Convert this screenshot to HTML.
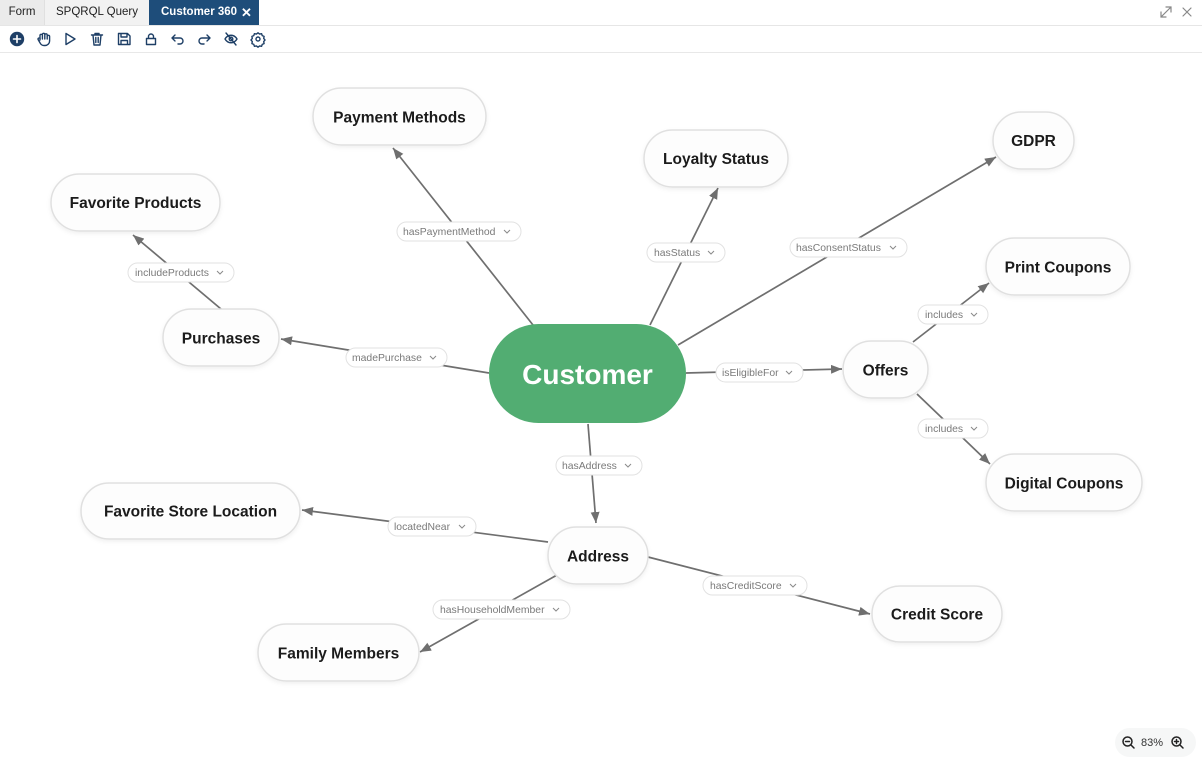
<!DOCTYPE html>
<html><head><meta charset="utf-8">
<style>
html,body{margin:0;padding:0;width:1202px;height:767px;overflow:hidden;background:#fff;font-family:"Liberation Sans",sans-serif;}
.tabbar{position:absolute;left:0;top:0;width:1202px;height:25px;background:#fff;border-bottom:1px solid #e6e6e6;}
.tab{position:absolute;top:0;height:25px;line-height:25px;font-size:11.5px;color:#222;text-align:center;}
.toolbar{position:absolute;left:0;top:26px;width:1202px;height:26px;border-bottom:1px solid #e8e8e8;background:#fff;}
svg{position:absolute;left:0;top:0;}
</style></head><body>
<div class="tabbar">
  <div class="tab" style="left:0;width:44px;background:#ebebeb;border-right:1px solid #e0e0e0;">Form</div>
  <div class="tab" style="left:45px;width:104px;background:#f2f2f2;">SPQRQL Query</div>
  <div class="tab" style="left:149px;width:110px;background:#1e4d7a;color:#fff;font-weight:bold;text-align:left;"><span style="position:absolute;left:12px;">Customer 360</span><span style="position:absolute;left:92px;font-size:13px;">✕</span></div>
</div>
<div class="toolbar"></div>
<svg width="1202" height="767" viewBox="0 0 1202 767">
  <defs>
    <marker id="ah" markerUnits="userSpaceOnUse" markerWidth="12" markerHeight="10" refX="11" refY="4.5" orient="auto">
      <path d="M0,0 L11,4.5 L0,9 z" fill="#6f6f6f"/>
    </marker>
    <filter id="sh" x="-10%" y="-20%" width="120%" height="150%">
      <feDropShadow dx="0" dy="2" stdDeviation="2" flood-color="#000" flood-opacity="0.06"/>
    </filter>
  </defs>

  <!-- top-right icons -->
  <g stroke="#888" stroke-width="1.2" fill="none" stroke-linecap="round">
    <path d="M1161,17 L1171,7 M1166,7 L1171,7 L1171,12 M1161,12 L1161,17 L1166,17"/>
    <path d="M1183,8 L1191,16 M1191,8 L1183,16"/>
  </g>

  <!-- toolbar icons -->
  <g fill="none" stroke="#1e3f66" stroke-width="1.4" stroke-linecap="round" stroke-linejoin="round">
    <circle cx="17" cy="39" r="6.5" fill="#1e3f66"/>
    <path d="M17,35.5 V42.5 M13.5,39 H20.5" stroke="#fff" stroke-width="1.6"/>
    <path d="M40,40 V35.5 a1.2,1.2 0 0 1 2.4,0 V39 V34.5 a1.2,1.2 0 0 1 2.4,0 V39 V35 a1.2,1.2 0 0 1 2.4,0 V39 V36.5 a1.2,1.2 0 0 1 2.4,0 V41 a4.5,4.5 0 0 1 -4.5,4.5 h-1 a4.5,4.5 0 0 1 -4,-2.5 l-2,-3.5 a1.2,1.2 0 0 1 2,-1.2 z"/>
    <path d="M66,33.5 L75,39 L66,44.5 z"/>
    <path d="M91.5,35 H102.5 M95,35 V33.5 H99 V35 M93,35 L94,45 H100 L101,35 M95.8,37.5 V42.5 M98.2,37.5 V42.5"/>
    <path d="M118.5,33.5 H127.5 L130,36 V44.5 H118.5 z M121,33.5 V37 H127 V33.5 M121,44.5 V40.5 H127.5 V44.5"/>
    <path d="M146.5,38.5 H155.5 V44.5 H146.5 z M148.5,38.5 V36.5 a2.5,2.5 0 0 1 5,0 V38.5"/>
    <path d="M175,35 L172,38 L175,41 M172,38 H180 a3,3 0 0 1 0,6 H178"/>
    <path d="M207,35 L210,38 L207,41 M210,38 H202 a3,3 0 0 0 0,6 H204"/>
    <path d="M225,39 C228,34 234,34 237,39 C234,44 228,44 225,39 z M226,33 L236,45"/>
    <circle cx="231" cy="39" r="1.8"/>
    <path d="M258,32.8 l1.6,1.3 l2,-0.4 l0.6,1.9 l1.9,0.8 l-0.4,2 l1.3,1.6 l-1.3,1.6 l0.4,2 l-1.9,0.8 l-0.6,1.9 l-2,-0.4 l-1.6,1.3 l-1.6,-1.3 l-2,0.4 l-0.6,-1.9 l-1.9,-0.8 l0.4,-2 l-1.3,-1.6 l1.3,-1.6 l-0.4,-2 l1.9,-0.8 l0.6,-1.9 l2,0.4 z"/>
    <circle cx="258" cy="39" r="2"/>
  </g>

  <!-- edges -->
  <g stroke="#6f6f6f" stroke-width="1.7" fill="none" marker-end="url(#ah)">
    <line x1="533" y1="325" x2="393" y2="148"/>
    <line x1="650" y1="325" x2="718" y2="188"/>
    <line x1="678" y1="345" x2="996" y2="157"/>
    <line x1="489" y1="373" x2="281" y2="339"/>
    <line x1="221" y1="309" x2="133" y2="235"/>
    <line x1="686" y1="373" x2="842" y2="369"/>
    <line x1="913" y1="342" x2="989" y2="283"/>
    <line x1="917" y1="394" x2="990" y2="464"/>
    <line x1="588" y1="424" x2="596" y2="523"/>
    <line x1="548" y1="542" x2="302" y2="510"/>
    <line x1="557" y1="575" x2="420" y2="652"/>
    <line x1="648" y1="557" x2="870" y2="614"/>
  </g>

  <!-- edge labels -->
  <g font-family="Liberation Sans, sans-serif" font-size="10.4" fill="#7a7a7a">
    <g><rect x="397" y="222" width="124" height="19" rx="9.5" fill="#fff" stroke="#e2e2e2"/><text x="403" y="235">hasPaymentMethod</text><path d="M504,230 l3,3 l3,-3" stroke="#8a8a8a" fill="none"/></g>
    <g><rect x="647" y="243" width="78" height="19" rx="9.5" fill="#fff" stroke="#e2e2e2"/><text x="654" y="256">hasStatus</text><path d="M708,251 l3,3 l3,-3" stroke="#8a8a8a" fill="none"/></g>
    <g><rect x="790" y="238" width="117" height="19" rx="9.5" fill="#fff" stroke="#e2e2e2"/><text x="796" y="251">hasConsentStatus</text><path d="M890,246 l3,3 l3,-3" stroke="#8a8a8a" fill="none"/></g>
    <g><rect x="346" y="348" width="101" height="19" rx="9.5" fill="#fff" stroke="#e2e2e2"/><text x="352" y="361">madePurchase</text><path d="M430,356 l3,3 l3,-3" stroke="#8a8a8a" fill="none"/></g>
    <g><rect x="128" y="263" width="106" height="19" rx="9.5" fill="#fff" stroke="#e2e2e2"/><text x="135" y="276">includeProducts</text><path d="M217,271 l3,3 l3,-3" stroke="#8a8a8a" fill="none"/></g>
    <g><rect x="716" y="363" width="87" height="19" rx="9.5" fill="#fff" stroke="#e2e2e2"/><text x="722" y="376">isEligibleFor</text><path d="M786,371 l3,3 l3,-3" stroke="#8a8a8a" fill="none"/></g>
    <g><rect x="918" y="305" width="70" height="19" rx="9.5" fill="#fff" stroke="#e2e2e2"/><text x="925" y="318">includes</text><path d="M971,313 l3,3 l3,-3" stroke="#8a8a8a" fill="none"/></g>
    <g><rect x="918" y="419" width="70" height="19" rx="9.5" fill="#fff" stroke="#e2e2e2"/><text x="925" y="432">includes</text><path d="M971,427 l3,3 l3,-3" stroke="#8a8a8a" fill="none"/></g>
    <g><rect x="556" y="456" width="86" height="19" rx="9.5" fill="#fff" stroke="#e2e2e2"/><text x="562" y="469">hasAddress</text><path d="M625,464 l3,3 l3,-3" stroke="#8a8a8a" fill="none"/></g>
    <g><rect x="388" y="517" width="88" height="19" rx="9.5" fill="#fff" stroke="#e2e2e2"/><text x="394" y="530">locatedNear</text><path d="M459,525 l3,3 l3,-3" stroke="#8a8a8a" fill="none"/></g>
    <g><rect x="433" y="600" width="137" height="19" rx="9.5" fill="#fff" stroke="#e2e2e2"/><text x="440" y="613">hasHouseholdMember</text><path d="M553,608 l3,3 l3,-3" stroke="#8a8a8a" fill="none"/></g>
    <g><rect x="703" y="576" width="104" height="19" rx="9.5" fill="#fff" stroke="#e2e2e2"/><text x="710" y="589">hasCreditScore</text><path d="M790,584 l3,3 l3,-3" stroke="#8a8a8a" fill="none"/></g>
  </g>

  <!-- nodes -->
  <g font-family="Liberation Sans, sans-serif" font-weight="bold" font-size="15.5" fill="#1b1b1b" text-anchor="middle">
    <g filter="url(#sh)" fill="#fdfdfd" stroke="#e0e0e0" stroke-width="1.5">
      <rect x="313" y="88" width="173" height="57" rx="28.5"/>
      <rect x="644" y="130" width="144" height="57" rx="28.5"/>
      <rect x="993" y="112" width="81" height="57" rx="28.5"/>
      <rect x="51" y="174" width="169" height="57" rx="28.5"/>
      <rect x="163" y="309" width="116" height="57" rx="28.5"/>
      <rect x="843" y="341" width="85" height="57" rx="28.5"/>
      <rect x="986" y="238" width="144" height="57" rx="28.5"/>
      <rect x="986" y="454" width="156" height="57" rx="28.5"/>
      <rect x="81" y="483" width="219" height="56" rx="28"/>
      <rect x="548" y="527" width="100" height="57" rx="28.5"/>
      <rect x="872" y="586" width="130" height="56" rx="28"/>
      <rect x="258" y="624" width="161" height="57" rx="28.5"/>
    </g>
    <text x="399.5" y="122.5">Payment Methods</text>
    <text x="716" y="164">Loyalty Status</text>
    <text x="1033.5" y="146">GDPR</text>
    <text x="135.5" y="208">Favorite Products</text>
    <text x="221" y="343.5">Purchases</text>
    <text x="885.5" y="375.5">Offers</text>
    <text x="1058" y="272.5">Print Coupons</text>
    <text x="1064" y="488.5">Digital Coupons</text>
    <text x="190.5" y="516.5">Favorite Store Location</text>
    <text x="598" y="561.5">Address</text>
    <text x="937" y="619.5">Credit Score</text>
    <text x="338.5" y="658.5">Family Members</text>

    <rect x="489" y="324" width="197" height="99" rx="49.5" fill="#52ad72"/>
    <text x="587.5" y="384" font-size="28" fill="#fff">Customer</text>
  </g>

  <!-- zoom control -->
  <rect x="1115" y="728" width="81" height="29" rx="14.5" fill="#f6f7f7"/>
  <g fill="none" stroke="#222" stroke-width="1.5" stroke-linecap="round">
    <circle cx="1127.5" cy="741.5" r="4.5"/>
    <path d="M1131,745 L1134,748 M1125.5,741.5 H1129.5"/>
    <circle cx="1176.5" cy="741.5" r="4.5"/>
    <path d="M1180,745 L1183,748 M1174.5,741.5 H1178.5 M1176.5,739.5 V743.5"/>
  </g>
  <text x="1152" y="746" font-family="Liberation Sans, sans-serif" font-size="11" fill="#333" text-anchor="middle">83%</text>
</svg>
</body></html>
